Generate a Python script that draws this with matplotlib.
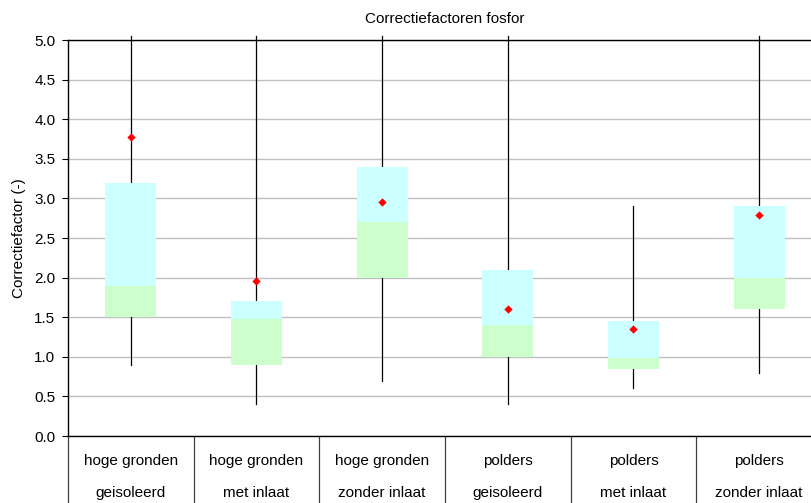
import matplotlib
matplotlib.use("Agg")
import matplotlib.pyplot as plt
import numpy as np

# ── data
line1 = ["hoge gronden", "hoge gronden", "hoge gronden", "polders", "polders", "polders"]
line2 = ["geisoleerd", "met inlaat", "zonder inlaat", "geisoleerd", "met inlaat", "zonder inlaat"]
minimum = [0.90, 0.40, 0.70, 0.40, 0.60, 0.80]
q1      = [1.50, 0.90, 2.00, 1.00, 0.85, 1.60]
median  = [1.90, 1.48, 2.70, 1.40, 0.98, 2.00]
q3      = [3.20, 1.70, 3.40, 2.10, 1.45, 2.90]
maximum = [5.05, 5.05, 5.05, 5.05, 2.90, 5.05]   # most run off the top of the axis
mean    = [3.77, 1.96, 2.95, 1.60, 1.35, 2.79]

plt.rcParams["font.family"] = ["Liberation Sans", "DejaVu Sans"]

W, H = 812, 503
fig = plt.figure(figsize=(W / 100, H / 100), dpi=100)
# axes run a little past the right edge of the figure, as in the reference
left, right, top, bottom = 68, 822, 40, 436
ax = fig.add_axes([left / W, 1 - bottom / H, (right - left) / W, (bottom - top) / H])

x = np.arange(len(line1))
bw = 0.405

for i in x:
    ax.plot([i, i], [minimum[i], maximum[i]], color="black", lw=0.9, zorder=2, clip_on=False)
    ax.bar(i, median[i] - q1[i], bottom=q1[i], width=bw, color="#CCFFCC", lw=0, zorder=3)
    ax.bar(i, q3[i] - median[i], bottom=median[i], width=bw, color="#CCFFFF", lw=0, zorder=3)

ax.scatter(x, mean, marker="D", s=18, color="#FF0000", lw=0, zorder=5)

ax.set_xlim(-0.5, len(line1) - 0.5)
ax.set_ylim(0, 5)
ax.set_yticks(np.arange(0, 5.01, 0.5))
ax.set_yticklabels([f"{v:.1f}" for v in np.arange(0, 5.01, 0.5)])
ax.yaxis.grid(True, color="#C0C0C0", lw=1)
ax.set_axisbelow(True)
ax.tick_params(axis="y", direction="out", length=4, width=0.8, labelsize=11, pad=5)

# category separators below the axis
ax.set_xticks(np.arange(-0.5, len(line1), 1.0))
ax.set_xticklabels([])
ax.tick_params(axis="x", direction="out", length=48, width=0.9, color="#404040")

xt = ax.get_xaxis_transform()
for i in x:
    ax.text(i, -(461 - bottom) / (bottom - top), line1[i], transform=xt,
            ha="center", va="center", fontsize=11)
    ax.text(i, -(493 - bottom) / (bottom - top), line2[i], transform=xt,
            ha="center", va="center", fontsize=11)

for s in ["left", "bottom", "top"]:
    ax.spines[s].set_color("black")
    ax.spines[s].set_linewidth(1.0)
ax.spines["right"].set_visible(False)

ax.set_ylabel("Correctiefactor (-)", fontsize=11, labelpad=6)
ax.set_title("Correctiefactoren fosfor", fontsize=11, pad=12)

fig.savefig("out.png", dpi=100)
